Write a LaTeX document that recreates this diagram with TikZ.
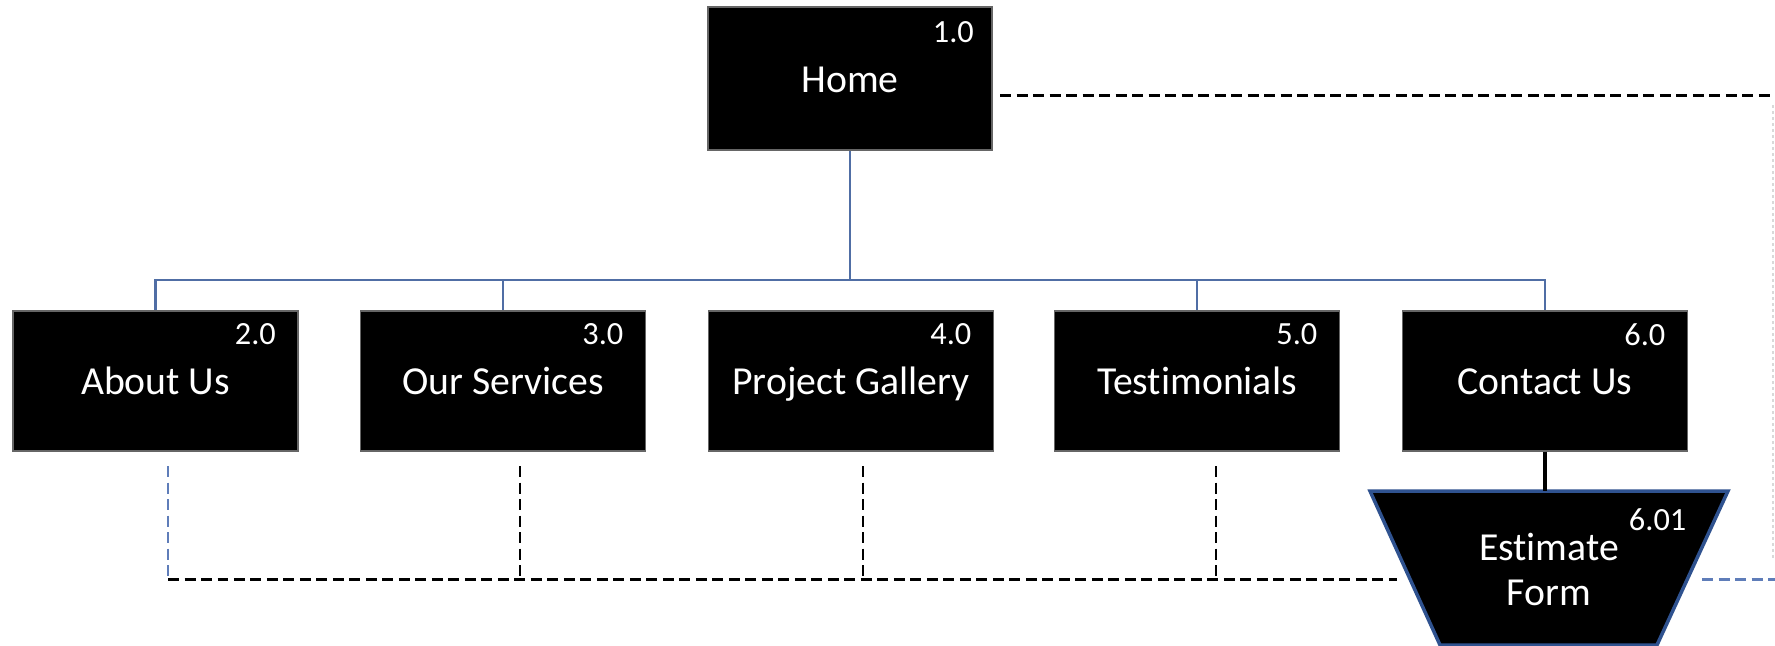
\documentclass[tikz,border=0pt]{standalone}
\usepackage{fontspec}
\setmainfont{Carlito}[Ligatures=NoCommon]
\usetikzlibrary{calc}
\definecolor{busblue}{RGB}{80,110,165}
\definecolor{trapblue}{RGB}{47,82,143}
\definecolor{dashblue}{RGB}{95,125,185}
\begin{document}
\begin{tikzpicture}[x=0.1mm,y=-0.1mm,
  page/.style={fill=black,draw=black!60,line width=0.3pt,minimum width=28.5mm,minimum height=14mm,text=white,font=\fontsize{11.3}{13}\selectfont,inner sep=0pt,text height=1.75ex,text depth=0.1ex},
  num/.style={text=white,font=\fontsize{9.2}{10}\selectfont,inner sep=0pt,anchor=east},
  bus/.style={draw=busblue,line width=0.6pt},
  dashk/.style={draw=black,line width=0.85pt,dash pattern=on 1.1mm off 0.55mm},
  dashb/.style={draw=dashblue,line width=0.85pt,dash pattern=on 1.1mm off 0.55mm},
  faint/.style={draw=black!15,line width=0.3pt,dash pattern=on 0.3mm off 0.3mm},
]
\useasboundingbox (0,0) rectangle (1775,645);

% top level
\node[page,minimum width=28.4mm,minimum height=14.3mm] (home) at (850,78.5) {Home};
\node[num] (n1) at ($(home.north east)+(-18,26)$) {1.0};

% second level
\node[page] (about) at (155.5,381) {About Us};
\node[page] (serv) at (503,381) {Our Services};
\node[page] (gall) at (851,381) {Project Gallery};
\node[page] (test) at (1197,381) {Testimonials};
\node[page] (cont) at (1545,381) {Contact Us};
\node[num] (n2) at ($(about.north east)+(-22,24)$) {2.0};
\node[num] (n3) at ($(serv.north east)+(-22,24)$) {3.0};
\node[num] (n4) at ($(gall.north east)+(-22,24)$) {4.0};
\node[num] (n5) at ($(test.north east)+(-22,24)$) {5.0};
\node[num] (n6) at ($(cont.north east)+(-22,24)$) {6.0};

% bus
\coordinate (bus) at (850,280);
\draw[bus] (home.south) -- (bus);
\draw[bus] (about.north) -- (about.north |- bus) -- (cont.north |- bus) -- (cont.north);
\draw[bus] (serv.north) -- (serv.north |- bus);
\draw[bus] (test.north) -- (test.north |- bus);

% estimate form trapezoid
\coordinate (tl) at (1370,491);
\coordinate (tr) at (1728,491);
\coordinate (br) at (1657,645);
\coordinate (bl) at (1440,645);
\draw[fill=black,draw=trapblue,line width=1pt] (tl) -- (tr) -- (br) -- (bl) -- cycle;
\node[text=white,font=\fontsize{11.3}{12.8}\selectfont,align=center,inner sep=0pt] (est) at (1549,569) {Estimate\\Form};
\node[num] (n601) at (1687,520) {6.01};
\draw[black,line width=0.9pt] (cont.south) -- (cont.south |- tl);

% dashed links
\coordinate (la) at (168,466);
\coordinate (ca) at (168,579);
\coordinate (ls) at (520,466);
\coordinate (cs) at (520,579);
\coordinate (lg) at (863,466);
\coordinate (cg) at (863,579);
\coordinate (lt) at (1216,466);
\coordinate (ct) at (1216,579);
\coordinate (ce) at (1397,579);
\coordinate (re) at (1702,579);
\coordinate (rr) at (1775,579);
\draw[dashb] (la) -- (ca);
\draw[dashk] (ca) -- (ce);
\draw[dashk] (ls) -- (cs);
\draw[dashk] (lg) -- (cg);
\draw[dashk] (lt) -- (ct);
\draw[dashb] (re) -- (rr);

\coordinate (hs) at (1000,95);
\coordinate (hr) at (1775,95);
\draw[dashk] (hs) -- (hr);
\coordinate (vt) at (1773,105);
\coordinate (vb) at (1773,560);
\draw[faint] (vt) -- (vb);
\end{tikzpicture}
\end{document}
